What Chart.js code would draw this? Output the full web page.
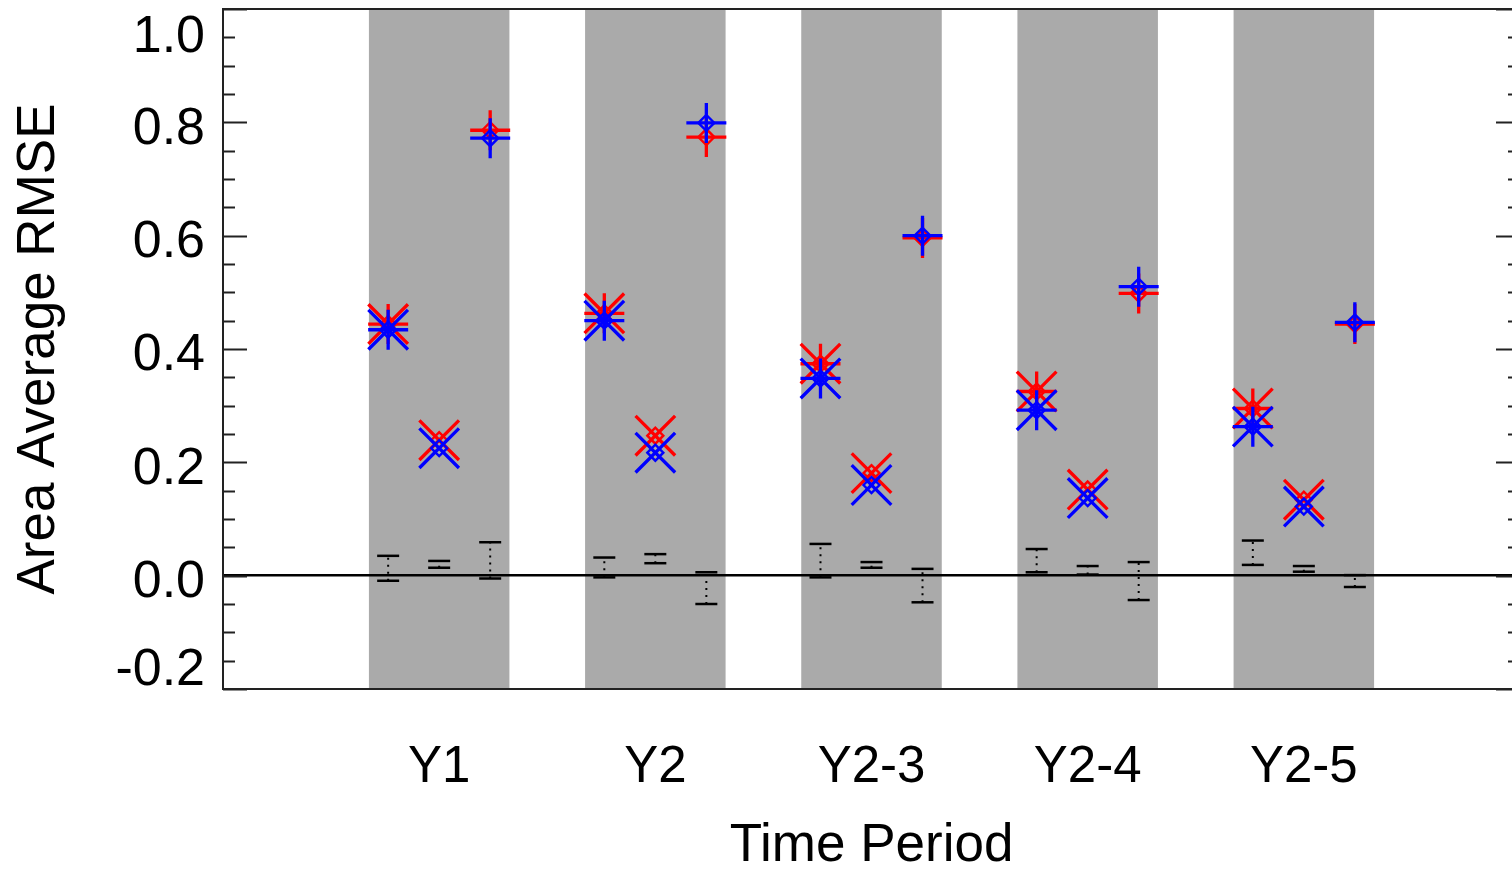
<!DOCTYPE html>
<html>
<head>
<meta charset="utf-8">
<script src="https://cdn.jsdelivr.net/npm/chart.js@4.4.1/dist/chart.umd.min.js"></script>
<style>
  html, body { margin: 0; padding: 0; overflow: hidden; background: #fff; }
  #wrap { position: relative; width: 1530px; height: 869px; }
</style>
</head>
<body>
<div id="wrap"><canvas id="c"></canvas></div>
<script>
// ---- data ----
const categories = ['Y1', 'Y2', 'Y2-3', 'Y2-4', 'Y2-5'];
const yTicks = [-0.2, 0.0, 0.2, 0.4, 0.6, 0.8, 1.0];

// asterisk markers (left of each period)
const redStar  = [0.444, 0.463, 0.374, 0.325, 0.295];
const blueStar = [0.434, 0.450, 0.348, 0.292, 0.263];
// X markers (centre of each period)
const redX  = [0.239, 0.247, 0.181, 0.152, 0.134];
const blueX = [0.225, 0.217, 0.160, 0.137, 0.122];
// plus markers (right of each period)
const redPlus  = [0.786, 0.774, 0.596, 0.498, 0.444];
const bluePlus = [0.772, 0.799, 0.600, 0.510, 0.447];

// black dotted ranges near zero
const starLow  = [-0.009, -0.003, -0.003, 0.006, 0.019];
const starHigh = [0.035, 0.032, 0.056, 0.047, 0.062];
const xLow  = [0.014, 0.022, 0.014, 0.002, 0.007];
const xHigh = [0.026, 0.038, 0.024, 0.017, 0.017];
const plusLow  = [-0.005, -0.050, -0.047, -0.043, -0.020];
const plusHigh = [0.059, 0.006, 0.012, 0.024, 0.001];

// ---- styling constants ----
const FONT = '"Liberation Sans", Arial, Helvetica, sans-serif';
const OFF = 0.236;        // horizontal offset of left/right markers
const BAND_HALF = 0.325;  // half width of grey band
const RED = '#ff0000', BLUE = '#0000ff';

function pts(vals, off) { return vals.map((v, i) => ({ x: i + 1 + off, y: v })); }
function rangePts(lows, highs, off) {
  const out = [];
  lows.forEach((lo, i) => {
    const x = i + 1 + off;
    out.push({ x: x, y: lo }, { x: x, y: highs[i] }, { x: x, y: null });
  });
  return out;
}

function markerSets(color, star, xs, plus, order) {
  const base = { type: 'scatter', showLine: false, borderColor: color, pointBorderColor: color,
                 backgroundColor: 'rgba(0,0,0,0)', pointBackgroundColor: 'rgba(0,0,0,0)', order: order };
  return [
    Object.assign({}, base, { data: pts(star, -OFF).concat(pts(xs, 0)), pointStyle: 'crossRot',
      pointRadius: 28, pointHoverRadius: 28, pointBorderWidth: 3.3 }),
    Object.assign({}, base, { data: pts(star, -OFF).concat(pts(plus, OFF)), pointStyle: 'cross',
      pointRadius: 20, pointHoverRadius: 20, pointBorderWidth: 3.3 }),
    Object.assign({}, base, { data: pts(star, -OFF).concat(pts(xs, 0), pts(plus, OFF)), pointStyle: 'rectRot',
      pointRadius: 8, pointHoverRadius: 8, pointBorderWidth: 2.4 })
  ];
}

const rangeData = rangePts(starLow, starHigh, -OFF)
  .concat(rangePts(xLow, xHigh, 0), rangePts(plusLow, plusHigh, OFF));

const datasets = [].concat(
  markerSets(RED, redStar, redX, redPlus, 3),
  markerSets(BLUE, blueStar, blueX, bluePlus, 2),
  [{
    type: 'line', data: rangeData, order: 1, fill: false, spanGaps: false,
    borderColor: '#000', borderWidth: 2, borderDash: [2, 5],
    pointStyle: 'line', pointRadius: 11, pointHoverRadius: 11,
    pointBorderColor: '#000', pointBorderWidth: 2.5, pointBackgroundColor: '#000'
  }]
);

// grey bands behind each period
const bandPlugin = {
  id: 'bands',
  beforeDraw(chart) {
    const { ctx, chartArea: a, scales: { x } } = chart;
    ctx.save();
    ctx.fillStyle = '#aaaaaa';
    categories.forEach((c, i) => {
      const l = x.getPixelForValue(i + 1 - BAND_HALF);
      const r = x.getPixelForValue(i + 1 + BAND_HALF);
      ctx.fillRect(l, a.top, r - l, a.bottom - a.top);
    });
    ctx.restore();
  }
};

// frame, inward ticks on both sides, y labels
const framePlugin = {
  id: 'frame',
  afterDraw(chart) {
    const { ctx, chartArea: a, scales: { y } } = chart;
    ctx.save();
    ctx.strokeStyle = '#222';
    ctx.lineWidth = 2;
    ctx.strokeRect(a.left, a.top, a.right - a.left, a.bottom - a.top);
    // minor ticks every 0.05, major every 0.2
    for (let k = -4; k <= 20; k++) {
      const v = k * 0.05;
      const py = Math.round(y.getPixelForValue(v)) + 0.5;
      const len = (k % 4 === 0) ? 24 : 12;
      ctx.beginPath();
      ctx.moveTo(a.left, py); ctx.lineTo(a.left + len, py);
      ctx.moveTo(a.right, py); ctx.lineTo(a.right - len, py);
      ctx.stroke();
    }
    ctx.fillStyle = '#000';
    ctx.font = '52px ' + FONT;
    ctx.textAlign = 'right';
    ctx.textBaseline = 'middle';
    yTicks.forEach(v => {
      let py = y.getPixelForValue(v) + 7;
      py = Math.min(Math.max(py, a.top + 29), a.bottom - 18);
      const label = (Math.round(v * 10) / 10).toFixed(1);
      ctx.fillText(label, a.left - 18, py);
    });
    ctx.restore();
  }
};

new Chart(document.getElementById('c'), {
  type: 'scatter',
  data: { datasets: datasets },
  options: {
    responsive: true,
    maintainAspectRatio: false,
    devicePixelRatio: 1,
    animation: false,
    events: [],
    layout: { autoPadding: false, padding: { top: 9, right: 10, left: 0, bottom: 0 } },
    plugins: { legend: { display: false }, tooltip: { enabled: false } },
    scales: {
      x: {
        type: 'linear', min: 0, max: 6,
        afterBuildTicks: s => { s.ticks = categories.map((c, i) => ({ value: i + 1 })); },
        ticks: {
          callback: (v, i) => categories[i],
          font: { size: 51, family: FONT }, color: '#000', padding: 48,
          autoSkip: false, maxRotation: 0, minRotation: 0
        },
        grid: { display: false, drawTicks: false },
        border: { display: false },
        title: { display: true, text: 'Time Period', color: '#000', padding: 0,
                 font: { size: 53, family: FONT, lineHeight: 0.84 } },
        afterFit: s => { s.height = 180; }
      },
      y: {
        type: 'linear', min: -0.2, max: 1.0,
        afterBuildTicks: s => { s.ticks = yTicks.map(v => ({ value: v })); },
        ticks: { display: false },
        grid: {
          drawTicks: false, lineWidth: 2.4,
          color: c => (c.tick && Math.abs(c.tick.value) < 1e-9) ? '#000' : 'rgba(0,0,0,0)'
        },
        border: { display: false },
        title: { display: true, text: 'Area Average RMSE', color: '#000',
                 padding: { top: 8, bottom: 0 }, font: { size: 53, family: FONT, lineHeight: 1.2 } },
        afterFit: s => { s.width = 223; }
      }
    }
  },
  plugins: [bandPlugin, framePlugin]
});
</script>
</body>
</html>
